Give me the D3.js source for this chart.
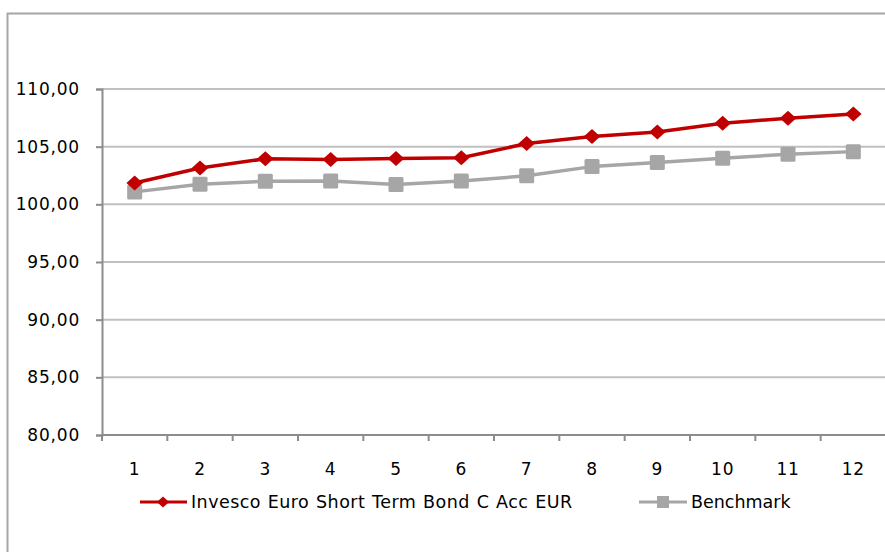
<!DOCTYPE html>
<html>
<head>
<meta charset="utf-8">
<script src="https://cdn.jsdelivr.net/npm/d3@7"></script>
<style>
  html, body { margin: 0; padding: 0; background: #fff; }
  svg { display: block; font-family: "DejaVu Sans", Verdana, sans-serif; }
</style>
</head>
<body>
<svg id="chart" width="885" height="552"></svg>
<script>
// Monthly index values: fund vs benchmark
const categories = ["1","2","3","4","5","6","7","8","9","10","11","12"];
const fundName = "Invesco Euro Short Term Bond C Acc EUR";
const benchName = "Benchmark";
const fundValues  = [101.85, 103.15, 103.95, 103.88, 103.97, 104.04, 105.27, 105.88, 106.28, 107.03, 107.46, 107.84];
const benchValues = [101.08, 101.75, 102.00, 102.03, 101.72, 102.03, 102.47, 103.27, 103.62, 104.00, 104.35, 104.57];
const yTicks = [80, 85, 90, 95, 100, 105, 110];

const svg = d3.select("#chart");
const W = 885, H = 552;
const plot = { left: 102, right: 886, top: 89, bottom: 435 };

const fmt = v => v.toFixed(2).replace(".", ",");

// Outer chart frame
svg.append("path")
  .attr("d", `M7.5,${H + 2} V13.5 H${W + 2}`)
  .attr("fill", "none").attr("stroke", "#a6a6a6").attr("stroke-width", 2);

const x = d3.scaleBand().domain(categories).range([plot.left, plot.right]);
const y = d3.scaleLinear().domain([80, 110]).range([plot.bottom, plot.top]);

// Horizontal gridlines
svg.append("g").selectAll("line")
  .data(yTicks.filter(t => t !== 80))
  .join("line")
  .attr("x1", plot.left).attr("x2", W)
  .attr("y1", d => y(d)).attr("y2", d => y(d))
  .attr("stroke", "#c0c0c0").attr("stroke-width", 2);

// Y axis
const yAxis = svg.append("g")
  .attr("transform", `translate(${plot.left},0)`)
  .call(d3.axisLeft(y).tickValues(yTicks).tickFormat(fmt).tickSize(6).tickPadding(16));
yAxis.select(".domain").attr("stroke", "#8c8c8c").attr("stroke-width", 2);
yAxis.selectAll(".tick line").attr("stroke", "#8c8c8c").attr("stroke-width", 2);
yAxis.selectAll(".tick text")
  .attr("fill", "#000").style("font-size", "17px").style("font-family", "DejaVu Sans")
  .style("letter-spacing", "0.8px");

// X axis: ticks between categories
const xAxisG = svg.append("g").attr("transform", `translate(0,${plot.bottom})`);
xAxisG.append("line")
  .attr("x1", plot.left).attr("x2", W)
  .attr("stroke", "#8c8c8c").attr("stroke-width", 2);
xAxisG.selectAll("line.tk")
  .data(categories)
  .join("line").attr("class", "tk")
  .attr("x1", d => x(d)).attr("x2", d => x(d))
  .attr("y1", 0).attr("y2", 6)
  .attr("stroke", "#8c8c8c").attr("stroke-width", 2);
xAxisG.selectAll("text")
  .data(categories)
  .join("text")
  .attr("x", d => x(d) + x.bandwidth() / 2)
  .attr("y", 40)
  .attr("text-anchor", "middle")
  .style("font-size", "17px")
  .style("letter-spacing", "0.8px")
  .attr("fill", "#000")
  .text(d => d);

const cx = d => x(d) + x.bandwidth() / 2;
const line = d3.line().x((d, i) => cx(categories[i])).y(d => y(d));

const diamond = (s) => `M0,${-s * 0.5}L${s * 0.55},0L0,${s * 0.5}L${-s * 0.55},0Z`;

// Benchmark series
svg.append("path").datum(benchValues)
  .attr("d", line).attr("fill", "none")
  .attr("stroke", "#a6a6a6").attr("stroke-width", 3.5).attr("stroke-linejoin", "round");
svg.append("g").selectAll("rect")
  .data(benchValues).join("rect")
  .attr("x", (d, i) => cx(categories[i]) - 7.5)
  .attr("y", d => y(d) - 7.5)
  .attr("width", 15).attr("height", 15).attr("rx", 1.5)
  .attr("fill", "#a6a6a6");

// Fund series
svg.append("path").datum(fundValues)
  .attr("d", line).attr("fill", "none")
  .attr("stroke", "#c00000").attr("stroke-width", 3.5).attr("stroke-linejoin", "round");
svg.append("g").selectAll("path")
  .data(fundValues).join("path")
  .attr("transform", (d, i) => `translate(${cx(categories[i])},${y(d)})`)
  .attr("d", diamond(15))
  .attr("fill", "#c00000");

// Legend
const legend = svg.append("g").attr("transform", "translate(0,502)");
const l1 = legend.append("g");
l1.append("line").attr("x1", 140).attr("x2", 187).attr("stroke", "#c00000").attr("stroke-width", 3);
l1.append("path").attr("transform", "translate(163,0)").attr("d", diamond(11)).attr("fill", "#c00000");
l1.append("text").attr("x", 191).attr("y", 0).attr("dy", "0.36em")
  .style("font-size", "17.5px").style("letter-spacing", "0.45px").style("word-spacing", "0.8px")
  .attr("fill", "#000").text(fundName);

const l2 = legend.append("g");
l2.append("line").attr("x1", 639).attr("x2", 687).attr("stroke", "#a6a6a6").attr("stroke-width", 3);
l2.append("rect").attr("x", 657).attr("y", -6).attr("width", 12).attr("height", 12).attr("fill", "#a6a6a6");
l2.append("text").attr("x", 691).attr("y", 0).attr("dy", "0.36em")
  .style("font-size", "17.5px").attr("fill", "#000").text(benchName);
</script>
</body>
</html>
